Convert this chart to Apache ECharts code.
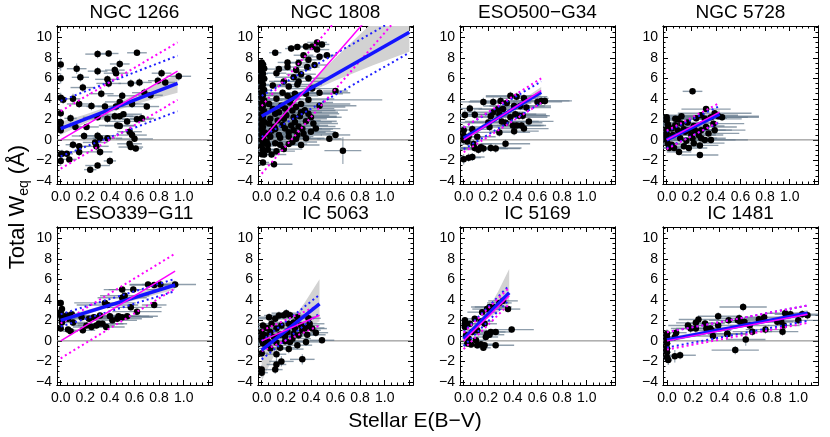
<!DOCTYPE html>
<html>
<head>
<meta charset="utf-8">
<script src="https://cdn.jsdelivr.net/npm/echarts@6/dist/echarts.min.js"></script>
<style>
  html, body { margin: 0; background: #fff; }
  #chart { width: 830px; height: 437px; }
</style>
</head>
<body>
<div id="chart"></div>
<script>
// panel titles, in reading order
const panelNames = ['NGC 1266', 'NGC 1808', 'ESO500\u2212G34', 'NGC 5728',
                    'ESO339\u2212G11', 'IC 5063', 'IC 5169', 'IC 1481'];

// axis ranges and ticks
const xMin = -0.03;
const xMaxes = [1.23, 1.23, 1.23, 1.23, 1.23, 1.23, 1.23, 1.15];
const yMin = -4.3, yMax = 11.1;
const xTickLabels = [0, 0.2, 0.4, 0.6, 0.8, 1.0];
const xMajorTicks = [0, 0.2, 0.4, 0.6, 0.8, 1.0, 1.2];
const xMinorTicks = [0.05, 0.1, 0.15, 0.25, 0.3, 0.35, 0.45, 0.5, 0.55, 0.65, 0.7, 0.75,
                     0.85, 0.9, 0.95, 1.05, 1.1, 1.15];
const yTickLabels = [-4, -2, 0, 2, 4, 6, 8, 10];
const yMinorTicks = [-3.5, -3, -2.5, -1.5, -1, -0.5, 0.5, 1, 1.5, 2.5, 3, 3.5, 4.5, 5, 5.5,
                     6.5, 7, 7.5, 8.5, 9, 9.5, 10.5, 11];

// points: [E(B-V), W_eq, xerr, yerr]
const ngc1266 = [[0,7.35,0.02,0.6],[0,6.0,0.02,0.5],[0,4.1,0.02,0.5],[0.02,3.9,0.03,0.4],[0,2.6,0.02,0.4],
  [0,1.7,0.02,0.4],[0,1.2,0.02,0.5],[0,0.95,0.02,0.4],[0,-1.4,0.02,0.4],[0,-2.05,0.02,0.5],
  [0.01,-1.36,0.05,0.4],[0.05,-1.36,0.05,0.3],[0.07,-1.9,0.06,0.3],[0.10,-0.47,0.06,0.4],[0.08,2.1,0.05,0.4],
  [0.10,4.0,0.06,0.5],[0.12,1.26,0.05,0.4],[0.13,6.94,0.08,0.5],[0.15,3.5,0.1,0.4],[0.15,-0.63,0.08,0.3],
  [0.15,-1.17,0.08,0.4],[0.16,6.1,0.07,0.4],[0.18,5.1,0.1,0.4],[0.19,0.38,0.1,0.4],[0.21,1.26,0.1,0.3],
  [0.24,-2.9,0.05,0.3],[0.25,3.3,0.12,0.4],[0.28,-0.25,0.1,0.4],[0.29,-0.63,0.1,0.4],[0.30,8.36,0.1,0.4],
  [0.30,6.7,0.08,0.4],[0.30,2.2,0.12,0.3],[0.30,0.4,0.15,0.4],[0.32,0.16,0.12,0.4],[0.32,-1.17,0.1,0.4],
  [0.30,-2.5,0.1,0.3],[0.33,4.5,0.1,0.4],[0.36,3.25,0.15,0.4],[0.38,2.05,0.15,0.4],[0.38,0.16,0.12,0.3],
  [0.38,5.9,0.1,0.4],[0.39,8.42,0.08,0.3],[0.39,5.5,0.1,0.4],[0.40,-2.05,0.05,0.4],[0.44,6.8,0.08,0.4],
  [0.44,2.3,0.15,0.4],[0.45,6.5,0.1,0.3],[0.45,3.25,0.15,0.4],[0.46,1.4,0.15,0.4],[0.48,7.4,0.08,0.4],
  [0.48,3.7,0.12,0.4],[0.48,2.3,0.15,0.3],[0.48,1.36,0.12,0.3],[0.50,4.3,0.12,0.4],[0.51,2.5,0.15,0.3],
  [0.54,1.8,0.15,0.3],[0.56,0.8,0.1,0.4],[0.56,-0.38,0.1,0.3],[0.57,-0.7,0.1,0.3],[0.57,5.5,0.1,0.4],
  [0.58,3.5,0.12,0.4],[0.58,0.47,0.12,0.3],[0.60,0.1,0.15,0.3],[0.61,-0.85,0.05,0.3],[0.62,8.49,0.08,0.3],
  [0.62,2.0,0.12,0.3],[0.64,5.6,0.1,0.4],[0.66,2.1,0.1,0.3],[0.68,4.6,0.1,0.4],[0.70,3.25,0.1,0.3],
  [0.73,4.35,0.1,0.3],[0.79,5.77,0.08,0.4],[0.82,6.5,0.08,0.4],[0.85,5.6,0.08,0.3],[0.96,6.2,0.1,0.4]];

const ngc1808 = [[0,7.55,0.02,0.3],[0.01,7.35,0.03,0.3],[0,7.15,0.02,0.3],[0.02,6.95,0.03,0.3],[0,6.7,0.02,0.3],
  [0.01,6.45,0.04,0.3],[0,6.2,0.02,0.3],[0.02,5.95,0.03,0.3],[0,5.7,0.02,0.3],[0.01,5.4,0.05,0.3],
  [0,5.15,0.03,0.3],[0.02,4.85,0.05,0.3],[0,4.6,0.02,0.3],[0.01,4.35,0.1,0.3],[0,4.1,0.05,0.3],
  [0.02,3.85,0.15,0.3],[0,3.55,0.1,0.3],[0.01,3.3,0.2,0.3],[0,3.05,0.15,0.3],[0.02,2.8,0.25,0.3],
  [0,2.5,0.2,0.3],[0.01,2.25,0.3,0.3],[0,2.0,0.2,0.3],[0.02,1.75,0.3,0.3],[0,1.5,0.25,0.3],
  [0.01,1.25,0.35,0.3],[0,1.0,0.3,0.3],[0.02,0.75,0.25,0.3],[0,0.5,0.2,0.3],[0.01,0.25,0.25,0.3],
  [0,0.0,0.2,0.3],[0.02,-0.3,0.15,0.3],[0,-0.6,0.1,0.3],[0.01,-0.95,0.1,0.3],[0,-1.4,0.05,0.3],
  [0.01,-2.2,0.05,0.3],
  [0.29,9.05,0.08,0.3],[0.36,9.1,0.1,0.3],[0.45,9.5,0.08,0.3],[0.49,9.3,0.06,0.3],[0.41,9.1,0.1,0.3],
  [0.24,8.9,0.05,0.3],[0.11,8.5,0.05,0.3],[0.45,8.8,0.1,0.3],[0.53,8.25,0.08,0.3],[0.47,8.1,0.1,0.3],
  [0.38,7.8,0.1,0.3],[0.34,8.25,0.08,0.3],[0.30,7.5,0.1,0.3],[0.21,7.55,0.08,0.3],[0.21,7.1,0.1,0.3],
  [0.28,6.8,0.12,0.3],[0.37,7.1,0.1,0.3],[0.43,7.3,0.1,0.3],[0.12,6.5,0.08,0.3],[0.18,5.7,0.12,0.3],
  [0.26,6.1,0.15,0.3],[0.32,6.4,0.12,0.3],[0.38,6.0,0.15,0.3],[0.22,5.2,0.15,0.3],[0.29,5.4,0.2,0.3],
  [0.41,5.0,0.2,0.3],[0.60,4.76,0.1,0.3],[0.47,4.6,0.25,0.3],[0.36,4.5,0.3,0.3],[0.27,4.5,0.3,0.3],
  [0.21,4.3,0.25,0.3],[0.12,4.0,0.2,0.3],[0.16,3.33,0.3,0.3],[0.23,3.65,0.35,0.3],[0.32,3.5,0.4,0.3],
  [0.38,3.9,0.6,0.3],[0.47,3.33,0.3,0.3],[0.25,2.86,0.35,0.3],[0.32,2.7,0.3,0.3],[0.38,2.54,0.25,0.3],
  [0.11,2.54,0.3,0.3],[0.07,2.06,0.3,0.3],[0.18,2.06,0.35,0.3],[0.27,1.75,0.3,0.3],[0.36,1.81,0.25,0.3],
  [0.42,1.6,0.2,0.3],[0.10,1.27,0.3,0.3],[0.19,1.1,0.3,0.3],[0.26,0.95,0.3,0.3],[0.33,1.05,0.25,0.3],
  [0.40,0.8,0.2,0.3],[0.04,0.63,0.25,0.3],[0.14,0.48,0.25,0.3],[0.22,0.32,0.2,0.3],[0.29,0.48,0.2,0.3],
  [0.36,0.16,0.15,0.3],[0.04,-0.16,0.2,0.3],[0.11,-0.32,0.2,0.3],[0.15,-0.48,0.15,0.3],[0.22,-0.41,0.15,0.3],
  [0.05,-0.95,0.15,0.3],[0.08,-1.43,0.12,0.3],[0.10,-2.38,0.15,0.3],[0.55,0.1,0.1,0.3],[0.60,0.48,0.12,0.3],
  [0.66,-1.05,0.15,1.3],[0.05,-0.48,0.2,0.3],[0.02,-1.43,0.1,0.3],
  [0.06,1.6,0.3,0.3],[0.08,0.9,0.3,0.3],[0.13,1.9,0.35,0.3],[0.15,0.2,0.25,0.3],[0.17,1.45,0.3,0.3],
  [0.20,2.4,0.35,0.3],[0.22,0.75,0.3,0.3],[0.24,1.4,0.3,0.3],[0.26,2.2,0.35,0.3],[0.28,0.1,0.2,0.3],
  [0.30,1.3,0.3,0.3],[0.31,2.3,0.3,0.3],[0.34,0.6,0.25,0.3],[0.35,2.9,0.35,0.3],[0.09,3.0,0.3,0.3],
  [0.14,2.7,0.35,0.3],[0.19,3.05,0.4,0.3],[0.28,3.2,0.4,0.3],[0.06,3.5,0.25,0.3],[0.17,4.6,0.3,0.3],
  [0.24,4.0,0.35,0.3],[0.30,5.7,0.2,0.3],[0.09,5.3,0.15,0.3],[0.14,6.9,0.1,0.3],[0.18,-0.9,0.15,0.3],
  [0.25,-0.2,0.2,0.3],[0.32,-0.5,0.15,0.3],[0.12,-1.1,0.15,0.3],[0.40,2.2,0.25,0.3],[0.44,1.1,0.2,0.3],
  [0.07,0.3,0.25,0.3],[0.11,1.05,0.3,0.3]];

const eso500 = [[0.38,4.3,0.2,0.4],[0.43,4.2,0.25,0.4],[0.49,4.05,0.2,0.4],[0.16,3.7,0.2,0.4],[0.24,3.7,0.2,0.4],
  [0.30,3.8,0.25,0.4],[0.35,3.6,0.2,0.4],[0.41,3.3,0.25,0.4],[0.46,3.3,0.25,0.4],[0.51,3.15,0.2,0.4],
  [0.60,3.7,0.2,0.4],[0.63,3.8,0.25,0.4],[0.66,3.8,0.2,0.4],[0.28,3.0,0.2,0.4],[0.32,3.0,0.2,0.4],
  [0.24,2.7,0.25,0.4],[0.22,2.3,0.25,0.4],[0.29,2.5,0.3,0.4],[0.42,2.5,0.25,0.4],[0.45,2.35,0.25,0.4],
  [0.48,2.35,0.2,0.4],[0.38,2.2,0.3,0.4],[0.53,1.8,0.2,0.4],[0.20,1.7,0.25,0.4],[0.31,1.8,0.3,0.4],
  [0.34,1.67,0.3,0.4],[0.43,1.4,0.2,0.4],[0.47,1.4,0.2,0.4],[0.40,1.4,0.25,0.4],[0.49,1.1,0.2,0.4],
  [0.41,0.85,0.2,0.4],[0.21,1.26,0.25,0.4],[0.09,2.46,0.15,0.4],[0.05,3.06,0.1,0.4],[0.01,2.43,0.05,0.5],
  [0.07,1.04,0.15,0.4],[0,0.95,0.05,0.5],[0,0.4,0.05,0.5],[0.04,0.3,0.1,0.4],[0.11,0.3,0.15,0.4],
  [0,0.0,0.05,0.5],[0.03,-0.16,0.1,0.4],[0.08,-0.41,0.15,0.4],[0.09,-0.79,0.2,0.4],[0.14,-0.73,0.2,0.4],
  [0.16,-0.85,0.2,0.4],[0.22,-0.79,0.25,0.4],[0.26,-0.85,0.2,0.4],[0.34,-0.38,0.2,0.4],[0.29,0.73,0.25,0.4],
  [0.07,-1.67,0.1,0.4],[0.04,-1.73,0.1,0.4],[0,-1.89,0.05,0.5],[0.12,-0.95,0.15,0.4]];

const ngc5728 = [[0.21,4.73,0.08,0.3],[0,2.2,0.05,0.3],[0,1.9,0.08,0.3],[0.01,1.5,0.1,0.3],[0,1.04,0.1,0.3],
  [0,0.63,0.1,0.3],[0,0.3,0.12,0.3],[0,0,0.1,0.3],[0.01,-0.38,0.1,0.3],[0.02,-0.79,0.08,0.3],
  [0.07,2.05,0.15,0.3],[0.09,2.0,0.2,0.3],[0.12,1.6,0.2,0.3],[0.17,1.7,0.25,0.3],[0.22,1.36,0.25,0.3],
  [0.24,2.1,0.25,0.3],[0.28,2.4,0.3,0.3],[0.31,2.05,0.3,0.3],[0.32,3.0,0.2,0.3],[0.39,2.6,0.3,0.3],
  [0.36,2.2,0.3,0.3],[0.42,2.3,0.33,0.3],[0.45,2.2,0.3,0.3],[0.38,1.58,0.25,0.3],[0.32,1.26,0.25,0.3],
  [0.28,0.95,0.25,0.3],[0.34,0.63,0.25,0.3],[0.26,0.47,0.2,0.3],[0.20,0.47,0.2,0.3],[0.15,0.79,0.2,0.3],
  [0.09,0.95,0.15,0.3],[0.05,0.47,0.15,0.3],[0.11,0.16,0.2,0.3],[0.16,-0.09,0.2,0.3],[0.22,-0.32,0.25,0.3],
  [0.27,-0.54,0.15,0.3],[0.31,0,0.25,0.3],[0.36,0,0.3,0.3],[0.14,-0.63,0.15,0.3],[0.18,-0.79,0.15,0.3],
  [0.10,-1.17,0.1,0.3],[0.06,-0.79,0.1,0.3],[0.27,-1.48,0.15,0.3],[0.04,-0.47,0.1,0.3],[0.14,1.04,0.2,0.3],
  [0.18,0.95,0.2,0.3],[0.23,0.95,0.25,0.3],[0.21,0.16,0.2,0.3],[0.28,0.16,0.2,0.3],[0.39,0.95,0.25,0.3],
  [0.04,1.1,0.1,0.3],[0.07,1.42,0.15,0.3],[0.12,2.3,0.15,0.3]];

const eso339 = [[0,3.7,0.02,0.3],[0.01,3.1,0.02,0.3],[0,2.8,0.02,0.3],[0,2.5,0.02,0.3],[0.01,2.15,0.03,0.3],
  [0.01,1.8,0.03,0.3],[0,1.2,0.02,0.3],[0.05,2.5,0.05,0.3],[0.09,2.6,0.08,0.3],[0.06,2.15,0.06,0.3],
  [0.06,1.1,0.05,0.3],[0.08,0.93,0.06,0.3],[0.10,1.8,0.1,0.3],[0.17,2.3,0.15,0.3],[0.23,2.15,0.15,0.3],
  [0.21,1.5,0.12,0.3],[0.18,1.03,0.1,0.3],[0.25,1.35,0.15,0.3],[0.27,2.3,0.2,0.3],[0.29,1.5,0.15,0.3],
  [0.31,1.67,0.2,0.3],[0.32,2.47,0.2,0.3],[0.36,3.7,0.25,0.3],[0.38,3.5,0.25,0.3],[0.37,1.35,0.15,0.3],
  [0.34,1.67,0.2,0.3],[0.40,2.4,0.25,0.3],[0.42,2.0,0.2,0.3],[0.46,2.15,0.2,0.3],[0.47,2.4,0.25,0.3],
  [0.50,2.3,0.25,0.3],[0.54,2.4,0.25,0.3],[0.50,4.2,0.2,0.3],[0.52,4.4,0.2,0.3],[0.50,5.0,0.15,0.3],
  [0.57,3.27,0.25,0.3],[0.59,5.0,0.2,0.3],[0.62,2.85,0.2,0.3],[0.71,5.5,0.15,0.3],[0.76,5.45,0.2,0.3],
  [0.76,3.5,0.1,0.3],[0.81,5.5,0.15,0.3],[0.93,5.5,0.17,0.3]];

const ic5063 = [[0,-2.8,0.05,0.4],[0,-3.1,0.05,0.4],[0.11,-2.8,0.06,0.4],[0.12,-2.3,0.08,0.6],[0.16,-2.0,0.1,0.5],
  [0.12,-1.3,0.08,0.4],[0,-1.2,0.05,0.4],[0.33,-1.8,0.1,0.5],[0.49,0.06,0.1,0.3],
  [0.01,1.5,0.15,0.4],[0.04,1.25,0.15,0.4],[0.08,1.67,0.15,0.4],[0.06,2.3,0.15,0.4],[0.11,2.15,0.15,0.4],
  [0.14,2.47,0.12,0.4],[0.18,2.5,0.12,0.4],[0.20,2.7,0.12,0.4],[0.23,2.5,0.12,0.4],[0.29,2.3,0.15,0.4],
  [0.38,2.2,0.1,0.4],[0.26,1.8,0.15,0.4],[0.22,1.67,0.15,0.4],[0.16,1.5,0.15,0.4],[0.12,1.2,0.15,0.4],
  [0.07,0.87,0.15,0.4],[0.03,0.55,0.15,0.4],[0.10,0.38,0.15,0.4],[0.15,0.6,0.15,0.4],[0.21,0.87,0.15,0.4],
  [0.27,1.2,0.15,0.4],[0.32,1.5,0.15,0.4],[0.36,1.25,0.15,0.4],[0.41,1.2,0.12,0.4],[0.44,0.8,0.1,0.4],
  [0.37,0.6,0.15,0.4],[0.30,0.55,0.15,0.4],[0.25,0.22,0.15,0.4],[0.19,-0.03,0.15,0.4],[0.12,-0.16,0.15,0.4],
  [0.05,-0.03,0.12,0.4],[0.01,-0.26,0.1,0.4],[0.07,-0.74,0.12,0.4],[0.15,-0.67,0.12,0.4],[0.22,-0.8,0.12,0.4],
  [0.29,-0.42,0.12,0.4],[0.36,-0.1,0.12,0.4],[0,0.87,0.1,0.4],[0,0.38,0.1,0.4],[0,0.06,0.1,0.4],
  [0.04,-0.42,0.1,0.4],[0.23,-0.1,0.15,0.4],[0.19,0.42,0.15,0.4],[0.33,1.03,0.15,0.4],[0.39,1.67,0.12,0.4],
  [0.26,0.7,0.15,0.4]];

const ic5169 = [[0.01,2.0,0.03,0.3],[0.01,1.67,0.03,0.3],[0.01,1.35,0.03,0.3],[0.05,1.67,0.05,0.3],[0.09,2.15,0.06,0.3],
  [0.02,0.55,0.03,0.3],[0.04,0.22,0.05,0.3],[0.03,-0.26,0.05,0.3],[0.06,-0.35,0.06,0.3],[0.10,0.06,0.08,0.3],
  [0.11,-0.42,0.08,0.3],[0.14,-0.32,0.1,0.3],[0.16,-0.67,0.06,0.3],[0.17,-0.42,0.1,0.3],[0.18,0.38,0.1,0.3],
  [0.21,0.6,0.12,0.3],[0.22,0.87,0.12,0.3],[0.19,0.7,0.1,0.3],[0.15,2.8,0.12,0.3],[0.17,1.67,0.1,0.3],
  [0.19,3.1,0.12,0.3],[0.21,3.3,0.15,0.3],[0.24,3.3,0.15,0.3],[0.29,3.7,0.1,0.3],[0.32,3.9,0.12,0.3],
  [0.36,3.1,0.1,0.3],[0.26,0.87,0.12,0.3],[0.26,-0.42,0.15,0.3],[0.39,1.1,0.18,0.3],[0.11,1.03,0.08,0.3],
  [0.14,1.9,0.1,0.3],[0.07,0.87,0.06,0.3]];

const ic1481 = [[0,0.7,0.03,0.4],[0,0.38,0.03,0.4],[0,0.06,0.03,0.4],[0,-0.26,0.03,0.4],[0,-0.74,0.03,0.4],
  [0,-1.1,0.03,0.4],[0,-1.6,0.03,0.5],[0.01,-1.86,0.03,0.5],[0.06,-1.5,0.05,0.6],[0.10,-1.4,0.12,0.4],
  [0.06,0.38,0.08,0.4],[0.07,0.8,0.08,0.4],[0.16,1.5,0.15,0.4],[0.18,1.2,0.15,0.4],[0.22,1.76,0.15,0.4],
  [0.24,2.08,0.15,0.4],[0.22,1.2,0.15,0.4],[0.29,1.7,0.15,0.4],[0.30,1.2,0.15,0.4],[0.33,1.2,0.15,0.4],
  [0.34,1.0,0.15,0.4],[0.35,0.48,0.15,0.4],[0.39,2.4,0.15,0.4],[0.39,1.5,0.15,0.4],[0.46,0.7,0.15,0.4],
  [0.47,2.0,0.15,0.4],[0.46,0.67,0.15,0.4],[0.52,-0.9,0.18,0.4],[0.54,2.0,0.15,0.4],[0.55,2.2,0.15,0.4],
  [0.58,3.3,0.18,0.4],[0.56,1.83,0.15,0.4],[0.59,1.83,0.15,0.4],[0.60,0.13,0.15,0.6],[0.63,1.5,0.15,0.4],
  [0.65,0.9,0.15,0.4],[0.70,2.1,0.15,0.4],[0.74,2.3,0.15,0.4],[0.75,1.1,0.15,0.4],[0.84,1.86,0.12,0.4],
  [0.87,1.86,0.12,0.4],[0.88,0.9,0.12,0.4],[0.89,1.5,0.12,0.4],[0.90,2.7,0.15,0.4],[0.94,2.6,0.12,0.4],
  [1.0,2.0,0.15,0.4],[1.03,2.6,0.12,0.4],[1.07,2.5,0.1,0.4]];

const panelPoints = [ngc1266, ngc1808, eso500, ngc5728, eso339, ic5063, ic5169, ic1481];

// fits: [x0, y0, x1, y1]
const fitBlue = [[0,1.1,0.95,5.5],[0,2.3,1.2,10.5],[0,0.15,0.63,4.65],[0,0.0,0.43,2.5],
                 [0,2.0,0.93,5.45],[0,-0.9,0.47,3.6],[0,0.2,0.37,4.7],[0,0.1,1.07,2.7]];
const fitMagenta = [[0,0,0.95,6.7],[0,0,1.2,16.5],[0,0,0.63,4.8],[0,0,0.43,2.7],
                    [0,0,0.93,6.8],[0,0,0.47,2.5],[0,0,0.37,4.4],[0,0,1.07,2.6]];
// offsets of the dotted scatter lines
const dotBlue = [2.7, 2.0, 1.05, 0.8, 0.6, 0.9, 0.7, 0.75];
const dotMagenta = [2.8, 3.3, 1.2, 0.9, 1.7, 1.0, 0.8, 0.85];
// confidence band around the blue fit: [x, low offset, high offset]
const bands = [
  [[0,-0.6,0.65],[0.2,-0.4,0.45],[0.42,-0.3,0.35],[0.7,-0.55,0.6],[0.95,-0.9,0.95]],
  [[0,-0.6,0.4],[0.2,-0.3,0.3],[0.35,-0.25,0.3],[0.6,-0.6,1.6],[0.9,-1.2,3.0],[1.2,-1.9,4.0]],
  [[0,-0.3,0.3],[0.3,-0.15,0.15],[0.63,-0.4,0.5]],
  [[0,-0.2,0.2],[0.2,-0.1,0.1],[0.43,-0.3,0.45]],
  [[0,-0.3,0.3],[0.4,-0.15,0.15],[0.93,-0.45,0.45]],
  [[0,-3.0,2.5],[0.1,-1.5,1.3],[0.22,-0.35,0.35],[0.35,-1.2,1.3],[0.47,-1.7,2.4]],
  [[0,-1.0,0.8],[0.1,-0.5,0.45],[0.18,-0.3,0.3],[0.28,-0.8,1.2],[0.37,-1.1,2.3]],
  [[0,-0.25,0.25],[0.5,-0.12,0.12],[1.07,-0.3,0.3]]
];

var FONT = 'Liberation Sans, Arial, Helvetica, sans-serif';
var ERR = 'rgba(100,120,140,0.72)';
var colLeft = [57, 258, 460, 663];
var rowTop = [26, 227];
var W = 155, H = 158;

var chart = echarts.init(document.getElementById('chart'));

var grids = [], xAxes = [], yAxes = [], series = [], graphics = [];

function fitAt(f, x) {
  return f[1] + (f[3] - f[1]) / (f[2] - f[0]) * (x - f[0]);
}

function lineSeries(i, pts, color, width, type, z) {
  return {
    type: 'line', xAxisIndex: 4 * i, yAxisIndex: 4 * i, data: pts, symbol: 'none',
    silent: true, z: z, clip: true,
    lineStyle: { color: color, width: width, type: type, opacity: 1 }
  };
}

panelNames.forEach(function (name, i) {
  var left = colLeft[i % 4], top = rowTop[Math.floor(i / 4)];
  grids.push({ left: left, top: top, width: W, height: H });

  var xBase = { gridIndex: i, type: 'value', min: xMin, max: xMaxes[i], splitLine: { show: false },
    axisLine: { onZero: false, lineStyle: { color: '#000', width: 1 } } };
  var yBase = { gridIndex: i, type: 'value', min: yMin, max: yMax, splitLine: { show: false },
    axisLine: { onZero: false, lineStyle: { color: '#000', width: 1 } } };
  var tick = function (vals, len) {
    return { show: true, inside: true, length: len, customValues: vals, lineStyle: { color: '#000' } };
  };

  xAxes.push(Object.assign({}, xBase, { position: 'bottom', axisTick: tick(xMajorTicks, 5),
    axisLabel: { customValues: xTickLabels, formatter: function (v) { return v.toFixed(1); },
      fontSize: 14, color: '#000', fontFamily: FONT, margin: 6 } }));
  xAxes.push(Object.assign({}, xBase, { position: 'bottom', axisTick: tick(xMinorTicks, 2.5), axisLabel: { show: false } }));
  xAxes.push(Object.assign({}, xBase, { position: 'top', axisTick: tick(xMajorTicks, 5), axisLabel: { show: false } }));
  xAxes.push(Object.assign({}, xBase, { position: 'top', axisTick: tick(xMinorTicks, 2.5), axisLabel: { show: false } }));

  yAxes.push(Object.assign({}, yBase, { position: 'left', axisTick: tick(yTickLabels, 5),
    axisLabel: { customValues: yTickLabels, formatter: function (v) { return String(v).replace('-', '\u2212'); },
      fontSize: 14, color: '#000', fontFamily: FONT, margin: 5 } }));
  yAxes.push(Object.assign({}, yBase, { position: 'left', axisTick: tick(yMinorTicks, 2.5), axisLabel: { show: false } }));
  yAxes.push(Object.assign({}, yBase, { position: 'right', axisTick: tick(yTickLabels, 5), axisLabel: { show: false } }));
  yAxes.push(Object.assign({}, yBase, { position: 'right', axisTick: tick(yMinorTicks, 2.5), axisLabel: { show: false } }));

  var fb = fitBlue[i], fm = fitMagenta[i];

  // confidence band
  series.push({
    type: 'custom', xAxisIndex: 4 * i, yAxisIndex: 4 * i, silent: true, z: 1, clip: true,
    data: [[fb[0], fb[1]]], encode: { x: 0, y: 1 },
    renderItem: function (params, api) {
      var up = bands[i].map(function (b) { return api.coord([b[0], fitAt(fb, b[0]) + b[2]]); });
      var lo = bands[i].map(function (b) { return api.coord([b[0], fitAt(fb, b[0]) + b[1]]); }).reverse();
      return { type: 'polygon', shape: { points: up.concat(lo) }, style: { fill: '#d2d2d2' } };
    }
  });

  // zero line
  series.push(lineSeries(i, [[xMin, 0], [xMaxes[i], 0]], '#808080', 1, 'solid', 2));

  // error bars
  series.push({
    type: 'custom', xAxisIndex: 4 * i, yAxisIndex: 4 * i, silent: true, z: 3, clip: true,
    data: panelPoints[i], encode: { x: 0, y: 1 },
    renderItem: function (params, api) {
      var x = api.value(0), y = api.value(1), xe = api.value(2), ye = api.value(3);
      var a = api.coord([x - xe, y]), b = api.coord([x + xe, y]);
      var c = api.coord([x, y - ye]), d = api.coord([x, y + ye]);
      return { type: 'group', children: [
        { type: 'line', shape: { x1: a[0], y1: a[1], x2: b[0], y2: b[1] }, style: { stroke: ERR, lineWidth: 1.4 } },
        { type: 'line', shape: { x1: c[0], y1: c[1], x2: d[0], y2: d[1] }, style: { stroke: ERR, lineWidth: 1.1 } }
      ] };
    }
  });

  // points
  series.push({
    type: 'scatter', xAxisIndex: 4 * i, yAxisIndex: 4 * i, silent: true, z: 4,
    data: panelPoints[i].map(function (p) { return [p[0], p[1]]; }),
    symbolSize: 6.5, itemStyle: { color: '#000', opacity: 1 }
  });

  // dotted scatter lines
  [1, -1].forEach(function (s) {
    series.push(lineSeries(i, [[fb[0], fb[1] + s * dotBlue[i]], [fb[2], fb[3] + s * dotBlue[i]]], '#1f1fff', 2, [2, 3], 5));
    series.push(lineSeries(i, [[fm[0], fm[1] + s * dotMagenta[i]], [fm[2], fm[3] + s * dotMagenta[i]]], '#ff00ff', 2, [2, 3], 5));
  });

  // fits
  series.push(lineSeries(i, [[fb[0], fb[1]], [fb[2], fb[3]]], '#1414ff', 3.5, 'solid', 6));
  series.push(lineSeries(i, [[fm[0], fm[1]], [fm[2], fm[3]]], '#ff00ff', 1.5, 'solid', 7));

  graphics.push({
    type: 'text', x: left + W / 2, y: top - 13,
    style: { text: name, font: '19px ' + FONT, fill: '#000', align: 'center', verticalAlign: 'middle' }
  });
});

graphics.push({
  type: 'text', x: 415, y: 421,
  style: { text: 'Stellar E(B\u2212V)', font: '21px ' + FONT, fill: '#000', align: 'center', verticalAlign: 'middle' }
});
graphics.push({
  type: 'text', x: 18, y: 207, rotation: Math.PI / 2,
  style: {
    text: '{a|Total W}{b|eq}{a| (\u00c5)}', align: 'center', verticalAlign: 'middle', fill: '#000',
    rich: {
      a: { fontSize: 22, fontFamily: FONT, lineHeight: 26, verticalAlign: 'middle' },
      b: { fontSize: 14, fontFamily: FONT, lineHeight: 26, verticalAlign: 'bottom', padding: [10, 0, 0, 0] }
    }
  }
});

chart.setOption({
  animation: false,
  backgroundColor: '#fff',
  textStyle: { fontFamily: FONT },
  grid: grids,
  xAxis: xAxes,
  yAxis: yAxes,
  series: series,
  graphic: graphics
});
</script>
</body>
</html>
